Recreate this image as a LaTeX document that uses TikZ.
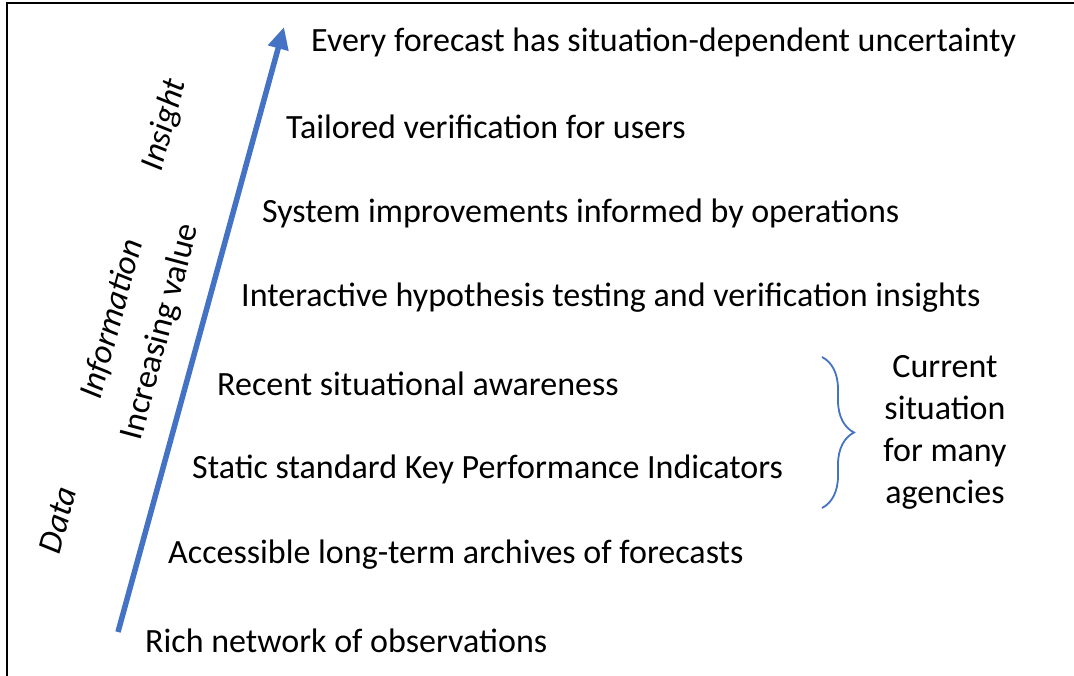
\documentclass[tikz,border=0pt]{standalone}
\usepackage{fontspec}
\setmainfont{Carlito}
\usetikzlibrary{arrows.meta,decorations.pathreplacing}
\definecolor{valueblue}{RGB}{68,114,196}
\tikzset{
  level/.style={anchor=west, inner sep=0pt, font=\fontsize{34}{42}\selectfont},
  stage/.style={rotate=75, inner sep=0pt, font=\fontsize{34}{42}\selectfont\itshape},
}
\begin{document}
\begin{tikzpicture}[x=1pt,y=-1pt]
  \useasboundingbox (0,0) rectangle (1074,676);
  \draw [line width=2pt] (1080,3)--(7,3)--(7,680);
  \coordinate (base) at (118,632);
  \coordinate (top) at (284,27);
  \draw [valueblue, line width=5.5pt, -{Triangle[length=22pt,width=20pt]}] (base)--(top);
  \node [level] (l1) at (311,42) {Every forecast has situation-dependent uncertainty};
  \node [level] (l2) at (286,127) {Tailored verification for users};
  \node [level] (l3) at (262,213) {System improvements informed by operations};
  \node [level] (l4) at (241,298) {Interactive hypothesis testing and verification insights};
  \node [level] (l5) at (217,384) {Recent situational awareness};
  \node [level] (l6) at (192,469) {Static standard Key Performance Indicators};
  \node [level] (l7) at (168,555) {Accessible long-term archives of forecasts};
  \node [level] (l8) at (145,641) {Rich network of observations};
  \node [stage] (insight) at (165,125) {Insight};
  \node [stage] (information) at (112,319) {Information};
  \node [stage] (data) at (58,520) {Data};
  \node [stage, font=\fontsize{34}{42}\selectfont] (value) at (161,332) {Increasing value};
  \coordinate (braceup) at (822,357);
  \coordinate (bracedown) at (822,508);
  \draw [valueblue, line width=1.8pt, decorate, decoration={brace, amplitude=32pt}] (braceup)--(bracedown);
  \node [align=center, inner sep=0pt, font=\fontsize{34}{42}\selectfont] (current) at (945,432) {Current\\situation\\for many\\agencies};
\end{tikzpicture}
\end{document}
